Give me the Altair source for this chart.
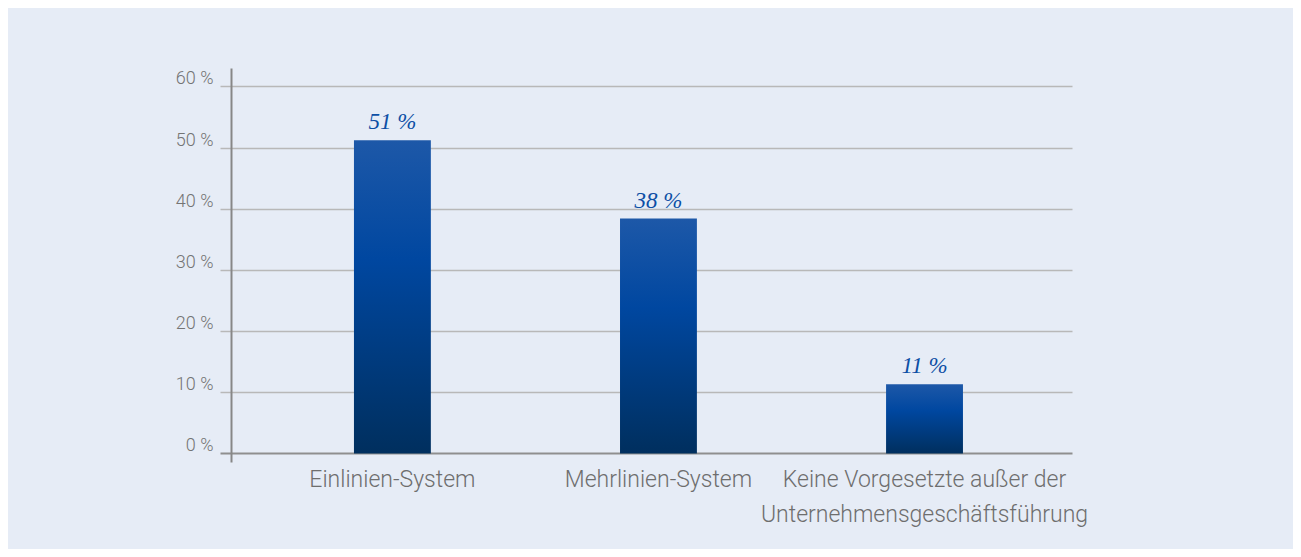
import altair as alt
import pandas as pd

categories = [
    "Einlinien-System",
    "Mehrlinien-System",
    "Keine Vorgesetzte außer der\nUnternehmensgeschäftsführung",
]
values = [51.2, 38.4, 11.3]
value_labels = ["51 %", "38 %", "11 %"]
y_ticks = [0, 10, 20, 30, 40, 50, 60]

df = pd.DataFrame({"cat": categories, "value": values, "label": value_labels})

x = alt.X(
    "cat:N",
    sort=categories,
    scale=alt.Scale(paddingInner=0.711, paddingOuter=0.436, align=0.53),
    axis=alt.Axis(
        title=None,
        labelAngle=0,
        ticks=False,
        domain=False,
        labelExpr="split(datum.label, '\\n')",
        labelFont="Roboto",
        labelFontWeight=300,
        labelFontSize=23,
        labelColor="#6e6e6e",
        labelLineHeight=35,
        labelLimit=500,
        labelPadding=6,
        labelBaseline="top",
    ),
)

y = alt.Y(
    "value:Q",
    scale=alt.Scale(domain=[-1.4, 63], nice=False, zero=False),
    axis=alt.Axis(
        title=None,
        values=y_ticks,
        labelExpr="datum.value + ' %'",
        labelFont="Roboto",
        labelFontWeight=300,
        labelFontSize=18,
        labelColor="#747474",
        labelBaseline="alphabetic",
        labelOffset=-2.5,
        labelPadding=7,
        tickSize=11,
        tickColor={"condition": {"test": "datum.value === 0", "value": "#8f8f8f"}, "value": "#b8b8b8"},
        tickWidth={"condition": {"test": "datum.value === 0", "value": 2}, "value": 1.5},
        grid=True,
        gridColor={"condition": {"test": "datum.value === 0", "value": "#8f8f8f"}, "value": "#b8b8b8"},
        gridWidth={"condition": {"test": "datum.value === 0", "value": 2}, "value": 1.5},
        domainColor="#878787",
        domainWidth=2,
    ),
)

gradient = alt.Gradient(
    gradient="linear",
    x1=0, y1=0, x2=0, y2=1,
    stops=[
        alt.GradientStop(color="#1d58a8", offset=0),
        alt.GradientStop(color="#0047a0", offset=0.38),
        alt.GradientStop(color="#002f5e", offset=1),
    ],
)

bars = alt.Chart(df).mark_bar(fill=gradient).encode(x=x, y=y)

texts = alt.Chart(df).mark_text(
    font="Liberation Serif",
    fontStyle="italic",
    fontSize=23,
    color="#0d4fa5",
    baseline="alphabetic",
    dy=-11,
).encode(x=alt.X("cat:N", sort=categories), y=alt.Y("value:Q"), text="label:N")

chart = (
    alt.layer(bars, texts)
    .properties(
        width=841,
        height=394,
        background="#e6ecf6",
        padding={"left": 223, "top": 60, "right": 221, "bottom": 87},
        autosize=alt.AutoSizeParams(type="none"),
    )
    .configure_view(stroke=None)
)

chart.save("out.html", embed_options={"renderer": "svg", "actions": False})
